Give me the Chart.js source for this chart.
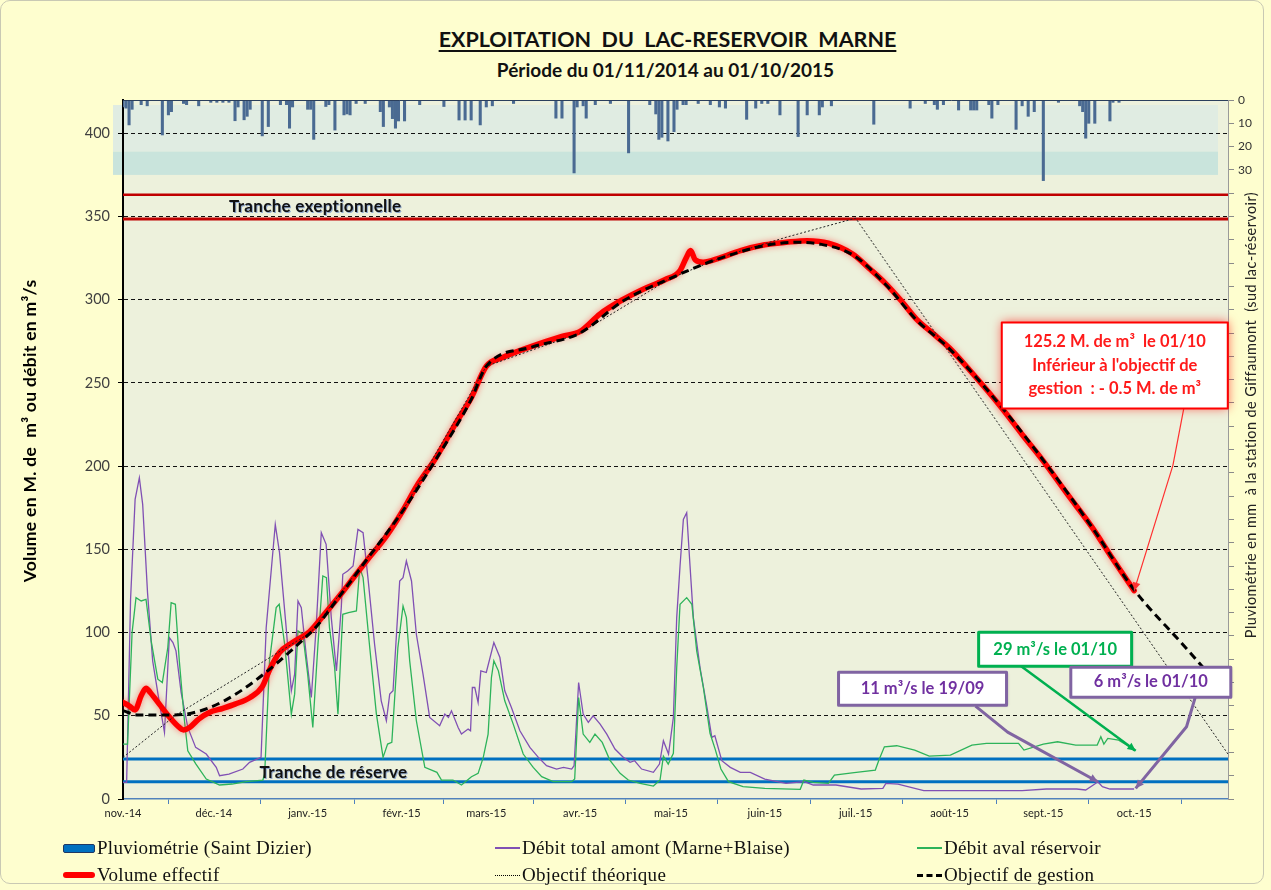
<!DOCTYPE html>
<html>
<head>
<meta charset="utf-8">
<script src="https://cdn.jsdelivr.net/npm/chart.js@4.4.1/dist/chart.umd.min.js"></script>
<style>
  body { margin: 0; background: #fff; }
  #wrap { position: relative; width: 1271px; height: 890px; background: #FEFECF; overflow: hidden; }
  #frame { position: absolute; left: 0; top: 0; width: 1264px; height: 884px; border: 1px solid #c9c9b4; border-radius: 10px; box-sizing: border-box; }
  canvas { position: absolute; left: 0; top: 0; }
  .ttl { position: absolute; left: 32px; width: 1271px; text-align: center; font-family: Lato, sans-serif; font-weight: bold; color: #111; white-space: pre; }
  #t1 { top: 26px; font-size: 21.5px; }
  #t1 span { text-decoration: underline; text-underline-offset: 3px; text-decoration-thickness: 2px; }
  #t2 { top: 58px; font-size: 19px; left: 30px; }
  .item { position: absolute; height: 22px; display: flex; align-items: center; font-family: "Liberation Serif", serif; font-size: 19px; letter-spacing: 0.3px; color: #111; white-space: nowrap; }
  .sw { display: inline-block; margin-right: 2px; box-sizing: border-box; }
</style>
</head>
<body>
<div id="wrap">
  <div id="frame"></div>
  <div class="ttl" id="t1"><span>EXPLOITATION  DU  LAC-RESERVOIR  MARNE</span></div>
  <div class="ttl" id="t2">Période du 01/11/2014 au 01/10/2015</div>
  <canvas id="lac" width="1271" height="890"></canvas>
  <div id="legend"></div>
</div>
<script>
// ==========================================
// 1. DATA (x = jours depuis le 01/11/2014)
// ==========================================
const monthDays   = [0, 30, 61, 92, 120, 151, 181, 212, 242, 273, 304, 334, 365];
const monthLabels = ['nov.-14', 'déc.-14', 'janv.-15', 'févr.-15', 'mars-15', 'avr.-15', 'mai-15',
                     'juin-15', 'juil.-15', 'août-15', 'sept.-15', 'oct.-15', ''];
const volumeTicks = [0, 50, 100, 150, 200, 250, 300, 350, 400];
const pluvioLabels = [0, 10, 20, 30];

// niveaux des tranches (M. de m3)
const trancheExceptionnelle = [363, 348.5];
const trancheReserve = [24, 10.4];

// pluviométrie journalière [jour, mm]
const pluviometrie = [
  [0,3],[1,3.5],[2,10.7],[3,4],[6,2],[8,2.5],[13,15],[15,6.4],[16,5],[20,1.5],[21,2],[25,2.5],
  [29,1],[31,1],[33,1],[35,1],[37,8.9],[38,3],[40,8.5],[41,7],[42,4],[46,15.4],[48,11.4],[52,2],
  [54,2],[55,12.1],[56,3],[61,4],[62,4],[63,16.9],[67,2.8],[68,2],[70,12.9],[73,6.4],[74,6],[75,6.4],
  [77,1.5],[80,1.5],[85,5],[86,11.4],[88,3],[89,8],[90,12.1],[91,9],[93,9],[98,2],[106,2.8],[111,8.6],
  [113,8.6],[115,8.6],[118,10.7],[120,3],[122,2.5],[129,1.5],[143,7.8],[145,7.8],[149,31.3],[150,3],
  [152,2.5],[153,7.8],[156,2],[161,1.5],[167,22.7],[174,2],[176,6],[177,16.9],[178,16],[180,17.6],
  [182,13.6],[183,4],[185,2],[186,2],[190,1.5],[194,2],[197,3],[199,3.5],[206,8.3],[209,3.5],[211,1.5],
  [213,1.5],[217,6.4],[223,15.7],[226,6.4],[230,6.4],[231,3],[234,2.5],[248,10.4],[260,3.5],[265,1.5],
  [268,2],[269,4],[271,2],[276,4.3],[280,4.3],[281,4.3],[282,4.3],[286,2],[287,7.8],[289,2],[295,12.6],
  [297,2.5],[299,7],[301,5],[304,34.6],[309,1],[316,2.5],[317,5],[318,16.4],[319,10],[321,10],[326,9],
  [327,1],[329,1]
];

// débit total amont (Marne+Blaise) m3/s
const debitAmont = [
  [0,10],[1.2,10],[2.5,120],[4,180],[5.4,193],[6.5,177],[8.1,124],[9.8,83],[12,58],[13.7,40],[15.3,97],
  [16.5,94],[17.5,89],[19.2,64],[21.4,43],[24,31],[27.5,27],[30.8,19],[31.9,14],[35,15],[39.6,18],
  [41.8,22],[45.6,25],[47.3,103],[50.3,165],[51.7,148],[53.9,103],[55.6,65],[56.7,75],[57.8,119],
  [58.9,115],[60.5,87],[62.2,61],[63.8,103],[65.5,160],[67.1,153],[68.8,109],[70.5,77],[72.1,115],
  [72.6,135],[74.2,137],[76,140],[77.6,162],[79.3,160],[80.9,133],[83.1,93],[85.3,59],[87,47],[88.1,63],
  [89.2,65],[91.4,131],[92.5,133],[93.6,143],[95.3,131],[96.9,99],[99.1,75],[101.3,49],[104.6,44],
  [106.3,51],[107.5,49],[108.5,53],[110.7,43],[111.8,39],[114,42],[114.8,41],[115.4,67],[116.2,67],
  [117.3,58],[118.2,77],[120,76],[122.5,94],[124.5,85],[126.1,65],[128.3,55],[131.1,41],[134.4,31],
  [137.2,25],[139.9,20],[143.2,18],[145.5,19],[148.2,18],[149,20],[150.5,70],[152,51],[153.7,46],
  [155.3,50],[157.6,45],[159.8,39],[162.5,30],[165.3,25],[167.5,22],[169,23],[171.3,18],[175.2,16],
  [177.2,21],[178.5,35],[180.2,27],[181.8,49],[182.9,109],[184,140],[185.1,168],[186.2,172],[187.3,140],
  [188.4,109],[190.6,79],[192.9,55],[194.5,37],[195.5,38],[197.8,23],[200.6,19],[203.9,16],[207.2,16],
  [212,12],[219,9.4],[225,10.4],[228,8.4],[235.5,8.4],[243.8,6],[251,6.4],[252,9.4],[256,9],[264.5,5],
  [272,5],[285,5],[297,5],[305,6],[315,6],[318,5.4],[321,9],[322,10.4],[323.5,7.4],[326,6],[334,6]
];

// débit aval réservoir m3/s
const debitAval = [
  [0,33],[1.5,33],[3,100],[4.3,121],[6,119],[7.6,120],[9.3,95],[11.5,72],[13,70],[14.8,91],[15.9,118],
  [17.3,117],[18.6,83],[20.3,47],[21.4,29],[24.1,21],[27.5,12],[31.9,8.4],[36,9],[40.7,10.4],[46.2,11.4],
  [46.8,15],[48.4,83],[50.6,115],[51.6,117],[53.4,93],[55.6,51],[56.7,63],[57.8,101],[59.4,99],[61,75],
  [62.7,43],[64.4,93],[66,134],[67.2,133],[68.2,103],[69.9,79],[71,51],[72.1,93],[72.6,111],[74.5,112],
  [77.1,113],[78.2,139],[79.3,133],[81.5,91],[83.7,51],[85.9,25],[87.4,33],[88.8,34],[90.8,91],
  [92.5,116],[93.6,109],[94.7,83],[96.9,47],[99.7,19],[103.7,16],[105.2,11.4],[109,11.4],[111.8,8.4],
  [115.1,13.4],[117.3,15.4],[119,25],[120.6,39],[121.7,73],[122.5,83],[124,77],[126.1,59],[128.9,45],
  [132.2,27],[135.5,19],[138.3,13.4],[142.1,10.4],[148.2,10.4],[149.2,12],[150.5,61],[152,39],[154.2,34],
  [155.9,39],[158.3,34],[160.8,23.4],[164.2,15.4],[166.9,11.4],[170.8,9.4],[175.2,7.8],[177.4,11.4],
  [178.5,25.8],[180.1,21],[181.8,27.4],[182.9,79],[184,117],[186.2,121],[187.9,117],[189.5,89],
  [191.7,67],[193.9,39.5],[195.6,30],[197.5,18],[200,10.4],[204.8,7.4],[212,6.4],[223.7,5.8],[224.9,11.4],
  [228,10],[233,9.4],[235,14.4],[241.5,15.8],[248.5,17.4],[249.7,23.4],[251.5,31.4],[255.6,32],
  [261.5,29.4],[266.3,25.8],[273.3,26.4],[280.4,32.4],[285.2,33.4],[295.8,33.4],[297.6,29.4],[304,33],
  [308.7,34.4],[314.7,32.4],[321.8,32.4],[323,37.4],[324,33],[325.3,36.4],[328.9,35.4],[332.4,31.4],[334,29]
];

// volume effectif M. de m3
const volumeEffectif = [
  [0,58],[2,56],[4,53.5],[6,62],[7.6,66.5],[9,64],[12,57],[15,50],[18,44],[20,41.5],[22,43],[25,48],
  [28.5,52],[33,54.5],[37,57],[42,61],[46,67.5],[48.5,78],[51.7,88],[56,94],[61.6,100.5],[67,112],
  [72.6,124.5],[77,135],[81.5,145.5],[87,158],[92.5,173.5],[97,188],[103,204],[110,226],[115,241],
  [120,260],[125,265],[135,272],[145,278],[151,281],[157.6,291.5],[165,300],[172,306.5],[179,312],
  [184,317.5],[186,325],[187.5,329.5],[189,324],[191.6,322.5],[197,325],[204,329.5],[212,333],
  [219,334.5],[226,335.5],[233,334],[241,327.5],[247,318],[252,309.5],[257,299.5],[262,288.5],[268,279],
  [273,271],[280,257],[290,235.5],[297,219],[304,203],[312,183],[320,163.5],[327,144],[334,125.2]
];

// objectif de gestion M. de m3
const objectifGestion = [
  [0,53],[5,50.5],[17,50.5],[62,100],[72,123],[81,145],[92,172],[103,203],[115,240],[120,260],[135,271.5],
  [151,280],[165,299],[181,313],[195,323.5],[212,332.5],[222,334.5],[230,333.5],[241,327],[252,309],
  [262,288],[273,270.5],[290,236],[304,203.5],[320,163.5],[334,125.7],[350,93],[365,62]
];

// objectif théorique M. de m3
const objectifTheorique = [
  [0,25],[17.5,50.5],[62,100],[92,172],[120,260],[151,280],[181,313],[200,327],[219,337.5],[242,349],[365,27]
];

// ==========================================
// 2. DECOR (styles, annotations)
// ==========================================
const pluvioBands = [
  { from: 389, to: 417, color: '#E0ECE2' },
  { from: 375, to: 389, color: '#C9E4DC' }
];

const zoneLabels = [
  { text: 'Tranche exeptionnelle', at: [63.5, 356] },
  { text: 'Tranche de réserve', at: [69.5, 15.8] }
];

const notes = [
  { lines: ['125.2 M. de m³  le 01/10', "Inférieur à l'objectif de", 'gestion  : - 0.5 M. de m³'],
    at: [327.6, 260.5], w: 226, h: 86, color: '#FF1A1A', border: '#FF0000', bw: 2, glow: 'rgba(255,0,0,0.65)',
    arrow: [[350.4, 234.7], [346.8, 200.5], [334, 125.2]], arrowColor: '#FF3030', arrowWidth: 1.2 },
  { lines: ['29 m³/s le 01/10'], at: [307.9, 90], w: 153, h: 34, color: '#00B050', border: '#00B050', bw: 3,
    arrow: [[294.9, 82.2], [334.5, 29]], arrowColor: '#00B050', arrowWidth: 2.5 },
  { lines: ['11 m³/s le 19/09'], at: [264.1, 66.3], w: 168, h: 33, color: '#7030A0', border: '#8064A2', bw: 3,
    arrow: [[281.6, 55.8], [292.2, 40.2], [322, 10.4]], arrowColor: '#8064A2', arrowWidth: 3 },
  { lines: ['6 m³/s le 01/10'], at: [339.5, 70.2], w: 160, h: 30, color: '#7030A0', border: '#8064A2', bw: 3,
    arrow: [[354.2, 61.2], [351.3, 43.4], [334.5, 6.4]], arrowColor: '#8064A2', arrowWidth: 3 }
];

const legendSlots = [[63, 848], [495, 848], [917, 848], [63, 875], [495, 875], [917, 875]];

const pts = arr => arr.map(p => ({ x: p[0], y: p[1] }));
const flat = v => [{ x: 0, y: v }, { x: 365, y: v }];

function arrowHead(ctx, p0, p1, size) {
  const ang = Math.atan2(p1[1] - p0[1], p1[0] - p0[0]);
  ctx.beginPath();
  ctx.moveTo(p1[0], p1[1]);
  ctx.lineTo(p1[0] - size * Math.cos(ang - 0.45), p1[1] - size * Math.sin(ang - 0.45));
  ctx.lineTo(p1[0] - size * Math.cos(ang + 0.45), p1[1] - size * Math.sin(ang + 0.45));
  ctx.closePath();
  ctx.fill();
}

const decor = {
  id: 'decor',
  beforeDraw(chart) {
    const { ctx, chartArea: a, scales: { y } } = chart;
    ctx.save();
    ctx.fillStyle = '#EDF1DC';
    ctx.fillRect(a.left, a.top, a.right - a.left, a.bottom - a.top);
    pluvioBands.forEach(b => {
      const y1 = y.getPixelForValue(b.to), y2 = y.getPixelForValue(b.from);
      ctx.fillStyle = b.color;
      ctx.fillRect(a.left - 10, y1, a.right - a.left, y2 - y1);
    });
    ctx.restore();
  },
  beforeDatasetDraw(chart, args) {
    const ds = chart.data.datasets[args.index];
    if (ds.glow) {
      chart.ctx.save();
      chart.ctx.shadowColor = ds.glow;
      chart.ctx.shadowBlur = 6;
    }
  },
  afterDatasetDraw(chart, args) {
    if (chart.data.datasets[args.index].glow) chart.ctx.restore();
  },
  afterDraw(chart) {
    const { ctx, chartArea: a, scales: { x, y } } = chart;
    const px = p => [x.getPixelForValue(p[0]), y.getPixelForValue(p[1])];
    ctx.save();

    // top edge of the plot
    ctx.strokeStyle = '#2b3f5c';
    ctx.lineWidth = 1;
    ctx.beginPath();
    ctx.moveTo(a.left, a.top + 0.5);
    ctx.lineTo(a.right, a.top + 0.5);
    ctx.stroke();

    // zone labels
    ctx.font = 'bold 17px Lato, sans-serif';
    ctx.letterSpacing = '0.3px';
    ctx.textAlign = 'center';
    ctx.textBaseline = 'middle';
    zoneLabels.forEach(z => {
      const [zx, zy] = px(z.at);
      ctx.fillStyle = 'rgba(70,110,190,0.55)';
      ctx.fillText(z.text, zx + 1, zy + 1);
      ctx.fillStyle = '#111';
      ctx.fillText(z.text, zx, zy);
    });
    ctx.letterSpacing = '0px';

    // annotations
    notes.forEach(n => {
      const path = n.arrow.map(px);
      ctx.strokeStyle = n.arrowColor;
      ctx.fillStyle = n.arrowColor;
      ctx.lineWidth = n.arrowWidth;
      ctx.lineJoin = 'round';
      ctx.beginPath();
      path.forEach((p, i) => i ? ctx.lineTo(p[0], p[1]) : ctx.moveTo(p[0], p[1]));
      ctx.stroke();
      arrowHead(ctx, path[path.length - 2], path[path.length - 1], 9);

      const [cx, cy] = px(n.at);
      const bx = cx - n.w / 2, by = cy - n.h / 2;
      ctx.save();
      if (n.glow) { ctx.shadowColor = n.glow; ctx.shadowBlur = 10; }
      else { ctx.shadowColor = 'rgba(0,0,0,0.25)'; ctx.shadowBlur = 3; ctx.shadowOffsetX = 1; ctx.shadowOffsetY = 1; }
      ctx.fillStyle = '#fff';
      ctx.fillRect(bx, by, n.w, n.h);
      ctx.restore();
      ctx.strokeStyle = n.border;
      ctx.lineWidth = n.bw;
      ctx.strokeRect(bx, by, n.w, n.h);
      ctx.fillStyle = n.color;
      ctx.font = 'bold 16.5px Lato, sans-serif';
      const lh = 23.5;
      n.lines.forEach((t, i) => {
        ctx.fillText(t, cx, cy + (i - (n.lines.length - 1) / 2) * lh);
      });
    });

    // axis titles
    ctx.fillStyle = '#000';
    ctx.font = 'bold 17.5px Lato, sans-serif';
    ctx.letterSpacing = '0.3px';
    ctx.translate(30, 431);
    ctx.rotate(-Math.PI / 2);
    ctx.fillText('Volume en M. de  m³ ou débit en m³/s', 0, 0);
    ctx.setTransform(1, 0, 0, 1, 0, 0);
    ctx.fillStyle = '#222';
    ctx.font = '14.5px Lato, sans-serif';
    ctx.letterSpacing = '0.4px';
    ctx.translate(1251, 415);
    ctx.rotate(-Math.PI / 2);
    ctx.fillText('Pluviométrie en mm  à la station de Giffaumont  (sud lac-réservoir)', 0, 0);
    ctx.restore();
  }
};

// ==========================================
// 3. CHART
// ==========================================
const line = (label, data, color, width, extra) => Object.assign({
  type: 'line', label: label, data: data, borderColor: color, backgroundColor: color,
  borderWidth: width, pointRadius: 0, tension: 0, fill: false, xAxisID: 'x', yAxisID: 'y'
}, extra || {});

const datasets = [
  line('Objectif de gestion', pts(objectifGestion), '#000', 3, { borderDash: [8, 5], legendSlot: 5,
       cubicInterpolationMode: 'monotone',
       swatch: 'width:25px;height:0;border-top:3px dashed #000' }),
  line('Objectif théorique', pts(objectifTheorique), '#222', 1, { borderDash: [2, 2], legendSlot: 4,
       swatch: 'width:25px;height:0;border-top:1px dotted #000' }),
  line('Volume effectif', pts(volumeEffectif), '#FF0000', 5.5, { glow: 'rgba(255,40,40,0.55)', legendSlot: 3,
       cubicInterpolationMode: 'monotone', borderCapStyle: 'round', borderJoinStyle: 'round',
       swatch: 'width:32px;height:6px;background:#FF0000;border-radius:3px' }),
  line('Débit aval réservoir', pts(debitAval), '#2DB35A', 1.3, { legendSlot: 2,
       swatch: 'width:25px;height:2px;background:#2DB35A' }),
  line('Débit total amont (Marne+Blaise)', pts(debitAmont), '#8050B4', 1.3, { legendSlot: 1,
       swatch: 'width:25px;height:2px;background:#8050B4' }),
  line('excep-haut', flat(trancheExceptionnelle[0]), '#C00000', 2.5),
  line('excep-bas', flat(trancheExceptionnelle[1]), '#C00000', 3),
  line('reserve-haut', flat(trancheReserve[0]), '#0070C0', 3),
  line('reserve-bas', flat(trancheReserve[1]), '#0070C0', 3),
  {
    type: 'bar', label: 'Pluviométrie (Saint Dizier)', data: pts(pluviometrie),
    backgroundColor: '#4A6A92', borderColor: '#2A4468', borderWidth: 0,
    barThickness: 2.4, grouped: false, xAxisID: 'x', yAxisID: 'y2', legendSlot: 0,
    swatch: 'width:32px;height:9px;background:#0070C0;border:1px solid #1F3864;border-radius:2px'
  }
];

const chart = new Chart(document.getElementById('lac'), {
  type: 'line',
  data: { datasets: datasets },
  options: {
    responsive: false,
    animation: false,
    devicePixelRatio: 1,
    layout: { padding: { top: 100, left: 0, right: 0, bottom: 0 } },
    plugins: { legend: { display: false }, tooltip: { enabled: false }, title: { display: false } },
    events: [],
    scales: {
      x: {
        type: 'linear', min: 0, max: 365, offset: false,
        afterBuildTicks: s => { s.ticks = monthDays.map(v => ({ value: v })); },
        afterFit: s => { s.height = 91; },
        ticks: { autoSkip: false, maxRotation: 0, padding: 3, color: '#222',
                 font: { family: 'Lato', size: 11 }, callback: (v, i) => monthLabels[i] },
        grid: { drawOnChartArea: false, tickLength: 5, tickColor: '#4F81BD', tickWidth: 1 },
        border: { display: true, color: '#4F81BD', width: 1.5 }
      },
      y: {
        type: 'linear', position: 'left', min: 0, max: 420,
        afterBuildTicks: s => { s.ticks = volumeTicks.map(v => ({ value: v })); },
        afterFit: s => { s.width = 123; },
        ticks: { padding: 8, color: '#404040', font: { family: 'Lato', size: 14.5 } },
        grid: { color: c => c.tick && c.tick.value === 0 ? 'rgba(0,0,0,0)' : '#111', lineWidth: 1,
                tickLength: 5, tickColor: '#000', tickBorderDash: [] },
        border: { display: true, color: '#000', width: 2, dash: [4, 3] }
      },
      y2: {
        type: 'linear', position: 'right', min: 0, max: 300, reverse: true,
        afterBuildTicks: s => { const t = []; for (let v = 0; v <= 300; v += 10) t.push({ value: v }); s.ticks = t; },
        afterFit: s => { s.width = 43; },
        ticks: { padding: 4, color: '#333', font: { family: 'Lato', size: 12 },
                 callback: v => pluvioLabels.includes(v) ? v : '' },
        grid: { drawOnChartArea: false, tickLength: 6, tickColor: '#8a8a8a' },
        border: { display: true, color: '#9a9a9a', width: 1 }
      }
    }
  },
  plugins: [decor]
});

// ==========================================
// 4. LEGEND (HTML, 2 lignes x 3 colonnes)
// ==========================================
const legendBox = document.getElementById('legend');
chart.data.datasets.forEach(ds => {
  if (ds.legendSlot === undefined) return;
  const [lx, ly] = legendSlots[ds.legendSlot];
  const item = document.createElement('div');
  item.className = 'item';
  item.style.left = lx + 'px';
  item.style.top = (ly - 11) + 'px';
  const sw = document.createElement('span');
  sw.className = 'sw';
  sw.style.cssText += ds.swatch;
  item.appendChild(sw);
  item.appendChild(document.createTextNode(ds.label));
  legendBox.appendChild(item);
});
</script>
</body>
</html>
